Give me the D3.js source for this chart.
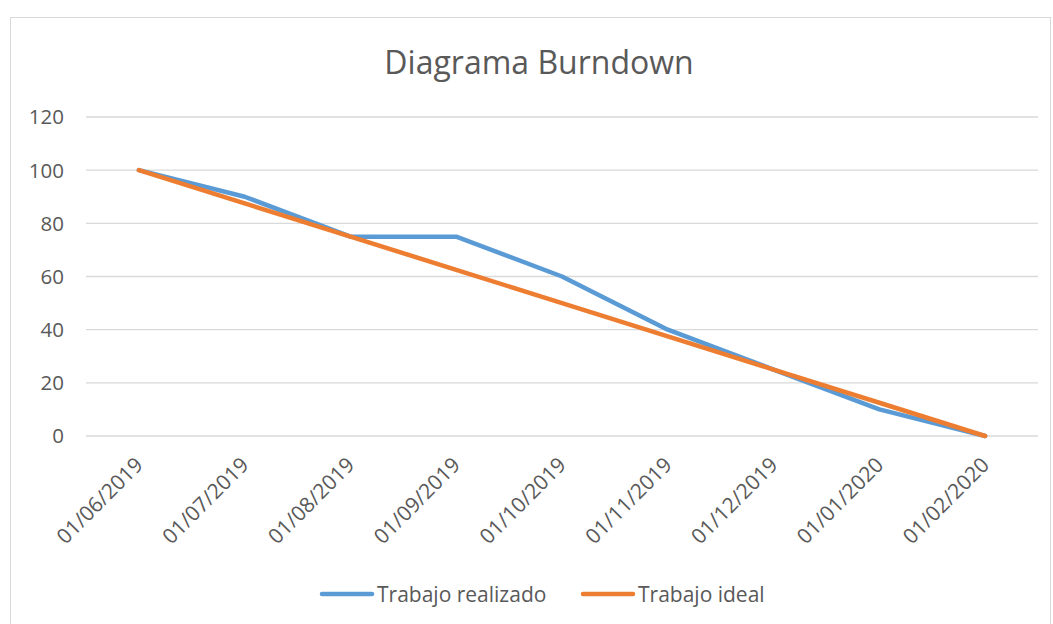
<!DOCTYPE html>
<html><head><meta charset="utf-8">
<script src="https://cdn.jsdelivr.net/npm/d3@7"></script>
<style>body{margin:0;background:#fff}svg{display:block}text{font-family:"Open Sans",sans-serif;fill:#595959}</style>
</head><body><svg id="c" width="1053" height="624"></svg>
<script>
const categories = ["01/06/2019","01/07/2019","01/08/2019","01/09/2019","01/10/2019","01/11/2019","01/12/2019","01/01/2020","01/02/2020"];
const realizado = [100, 90, 75, 75, 60, 40, 25, 10, 0];
const ideal = [100, 87.5, 75, 62.5, 50, 37.5, 25, 12.5, 0];
const yTicks = [0, 20, 40, 60, 80, 100, 120];
const seriesNames = ["Trabajo realizado", "Trabajo ideal"];
const colors = ["#5B9BD5", "#ED7D31"];

const svg = d3.select("#c");
svg.append("rect").attr("x",10.5).attr("y",17.5).attr("width",1040).attr("height",620).attr("fill","#fff").attr("stroke","#D9D9D9");

svg.append("text").attr("x",539).attr("y",74).attr("text-anchor","middle").style("font-size","32px").text("Diagrama Burndown");

const x = d3.scaleBand().domain(categories).range([86,1038]);
const y = d3.scaleLinear().domain([0,120]).range([436,117]);

const g = svg.append("g");
g.selectAll("line.grid").data(yTicks).join("line").attr("class","grid")
  .attr("x1",86).attr("x2",1038).attr("y1",d=>y(d)).attr("y2",d=>y(d))
  .attr("stroke","#D9D9D9").attr("stroke-width",1.3);

g.selectAll("text.yl").data(yTicks).join("text").attr("class","yl")
  .attr("x",64).attr("y",d=>y(d)).attr("dy","0.36em").attr("text-anchor","end")
  .style("font-size","20.5px").text(d=>d);

g.selectAll("text.xl").data(categories).join("text").attr("class","xl")
  .attr("transform",d=>`translate(${x(d)+x.bandwidth()/2},${461}) rotate(-45)`)
  .attr("text-anchor","end").attr("dy","0.36em").style("font-size","21px").text(d=>d);

const line = d3.line().x((d,i)=>x(categories[i])+x.bandwidth()/2).y(d=>y(d));
[realizado, ideal].forEach((s,i)=>{
  svg.append("path").datum(s).attr("d",line).attr("fill","none")
    .attr("stroke",colors[i]).attr("stroke-width",4.5).attr("stroke-linecap","round").attr("stroke-linejoin","round");
});

const legX = [320, 581];
seriesNames.forEach((n,i)=>{
  svg.append("line").attr("x1",legX[i]+2).attr("x2",legX[i]+52).attr("y1",594).attr("y2",594)
    .attr("stroke",colors[i]).attr("stroke-width",4.5).attr("stroke-linecap","round");
  svg.append("text").attr("x",legX[i]+57).attr("y",594).attr("dy","0.36em").style("font-size","21px").text(n);
});
</script></body></html>
